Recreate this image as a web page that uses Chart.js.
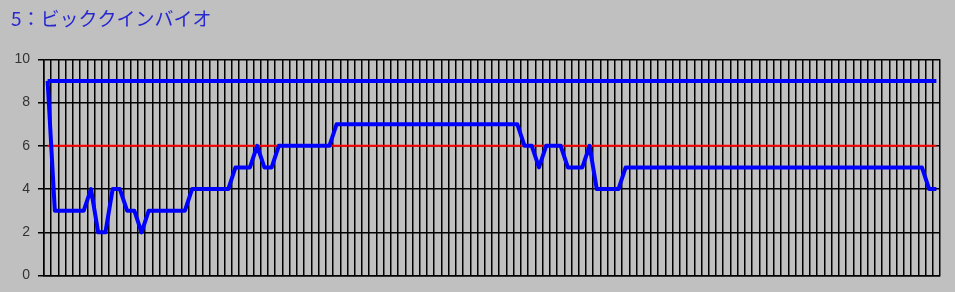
<!DOCTYPE html>
<html><head><meta charset="utf-8">
<script src="https://cdn.jsdelivr.net/npm/chart.js@4/dist/chart.umd.min.js"></script>
<style>
html,body{margin:0;padding:0;background:#c0c0c0;}
#w{width:955px;height:292px;position:relative;}
</style>
</head><body>
<div id="w"><canvas id="c"></canvas></div>
<script>
const titleText = '5：ビッククインバイオ';
const yTicks = [0, 2, 4, 6, 8, 10];
const dayLabels = [
  '1','2','3','4','5','6','7','8','9','10',
  '11','12','13','14','15','16','17','18','19','20',
  '21','22','23','24','25','26','27','28','29','30',
  '31','32','33','34','35','36','37','38','39','40',
  '41','42','43','44','45','46','47','48','49','50',
  '51','52','53','54','55','56','57','58','59','60',
  '61','62','63','64','65','66','67','68','69','70',
  '71','72','73','74','75','76','77','78','79','80',
  '81','82','83','84','85','86','87','88','89','90',
  '91','92','93','94','95','96','97','98','99','100',
  '101','102','103','104','105','106','107','108','109','110',
  '111','112','113','114','115','116','117','118','119','120',
  '121','122','123','124'
];
const rankSeries = [
  9,3,3,3,3,3,4,2,2,4,
  4,3,3,2,3,3,3,3,3,3,
  4,4,4,4,4,4,5,5,5,6,
  5,5,6,6,6,6,6,6,6,6,
  7,7,7,7,7,7,7,7,7,7,
  7,7,7,7,7,7,7,7,7,7,
  7,7,7,7,7,7,6,6,5,6,
  6,6,5,5,5,6,4,4,4,4,
  5,5,5,5,5,5,5,5,5,5,
  5,5,5,5,5,5,5,5,5,5,
  5,5,5,5,5,5,5,5,5,5,
  5,5,5,5,5,5,5,5,5,5,
  5,5,4,4
];
const upperSeries = [
  9,9,9,9,9,9,9,9,9,9,
  9,9,9,9,9,9,9,9,9,9,
  9,9,9,9,9,9,9,9,9,9,
  9,9,9,9,9,9,9,9,9,9,
  9,9,9,9,9,9,9,9,9,9,
  9,9,9,9,9,9,9,9,9,9,
  9,9,9,9,9,9,9,9,9,9,
  9,9,9,9,9,9,9,9,9,9,
  9,9,9,9,9,9,9,9,9,9,
  9,9,9,9,9,9,9,9,9,9,
  9,9,9,9,9,9,9,9,9,9,
  9,9,9,9,9,9,9,9,9,9,
  9,9,9,9
];
const midSeries = [
  6,6,6,6,6,6,6,6,6,6,
  6,6,6,6,6,6,6,6,6,6,
  6,6,6,6,6,6,6,6,6,6,
  6,6,6,6,6,6,6,6,6,6,
  6,6,6,6,6,6,6,6,6,6,
  6,6,6,6,6,6,6,6,6,6,
  6,6,6,6,6,6,6,6,6,6,
  6,6,6,6,6,6,6,6,6,6,
  6,6,6,6,6,6,6,6,6,6,
  6,6,6,6,6,6,6,6,6,6,
  6,6,6,6,6,6,6,6,6,6,
  6,6,6,6,6,6,6,6,6,6,
  6,6,6,6
];

const lineStyle = {
  pointRadius: 0, pointHoverRadius: 0, fill: false, tension: 0,
  borderJoinStyle: 'round', borderCapStyle: 'butt'
};

new Chart(document.getElementById('c'), {
  type: 'line',
  data: {
    labels: dayLabels,
    datasets: [
      Object.assign({ data: rankSeries, borderColor: '#0000ff', borderWidth: 4 }, lineStyle),
      Object.assign({ data: upperSeries, borderColor: '#0000ff', borderWidth: 4 }, lineStyle),
      Object.assign({ data: midSeries, borderColor: '#ff0000', borderWidth: 2 }, lineStyle)
    ]
  },
  options: {
    responsive: true,
    maintainAspectRatio: false,
    animation: false,
    events: [],
    layout: { padding: { left: 11, right: 15, top: 0, bottom: 16 } },
    plugins: {
      legend: { display: false },
      tooltip: { enabled: false },
      title: {
        display: true,
        text: titleText,
        align: 'start',
        color: '#2828d0',
        font: { family: "'Noto Sans CJK JP', 'Noto Sans', sans-serif", size: 19, weight: 'normal', lineHeight: 1.2 },
        padding: { top: 7, bottom: 29.5 }
      }
    },
    scales: {
      x: {
        type: 'category',
        offset: true,
        grid: { offset: true, color: '#000', lineWidth: 1.5, drawTicks: false },
        ticks: { display: false },
        border: { color: '#000', width: 1.5 },
        afterFit: s => { s.height = 0; }
      },
      y: {
        min: 0, max: 10,
        afterBuildTicks: s => { s.ticks = yTicks.map(v => ({ value: v })); },
        ticks: { color: '#333', padding: 8, font: { family: "'Liberation Sans', Arial, sans-serif", size: 14 } },
        grid: { color: '#000', lineWidth: 1.5, tickLength: 6, drawTicks: true },
        border: { color: '#000', width: 1.5 },
        afterFit: s => { s.width = 33; }
      }
    }
  }
});
</script>
</body></html>
